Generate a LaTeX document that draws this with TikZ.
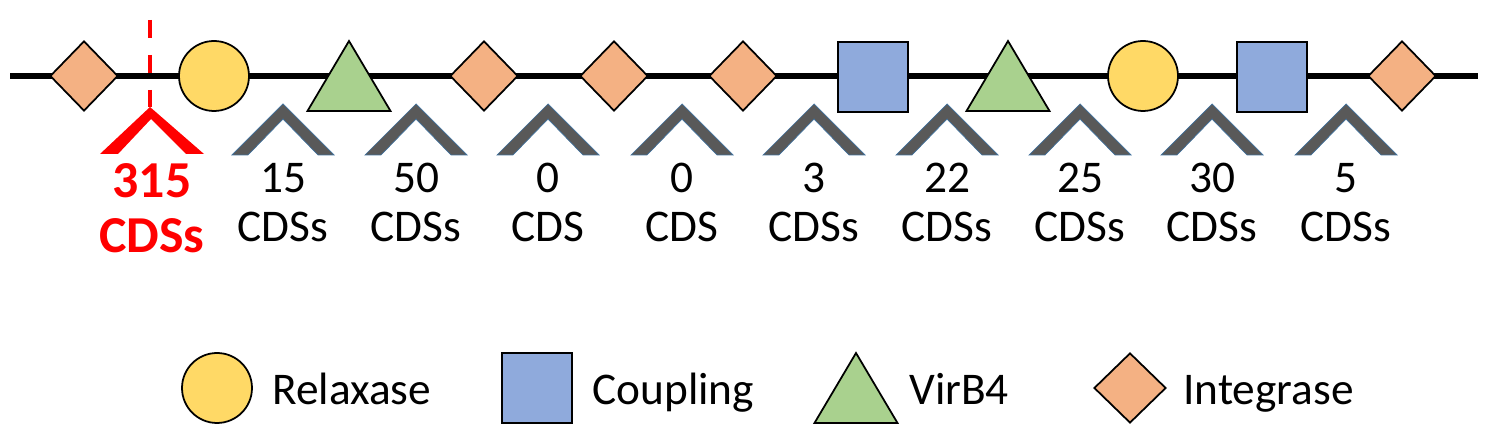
\documentclass[tikz,border=0pt]{standalone}
\usepackage{fontspec}
\setmainfont{Carlito}
\usetikzlibrary{shapes.geometric}
\definecolor{integC}{HTML}{F4B183}
\definecolor{relaxC}{HTML}{FFD966}
\definecolor{coupC}{HTML}{8FAADC}
\definecolor{virC}{HTML}{A9D18E}
\definecolor{chevC}{HTML}{595959}
\definecolor{chevE}{HTML}{41719C}
\tikzset{
  bone/.style={line width=3.1pt},
  gene/.style={draw,line width=1pt,inner sep=0pt},
  integ/.style={gene,diamond,fill=integC,minimum width=1.36cm,minimum height=1.4cm},
  relax/.style={gene,circle,fill=relaxC,minimum size=1.4cm},
  coup/.style={gene,rectangle,fill=coupC,minimum size=1.4cm},
  virtri/.style={draw,line width=1pt,fill=virC,line join=miter},
  chev/.style={fill=chevC,draw=chevE,line width=0.4pt},
  cnt/.style={font=\fontsize{25.8}{30}\selectfont,anchor=base,inner sep=0pt},
  rcnt/.style={font=\fontsize{29.5}{34}\selectfont\bfseries,text=red,anchor=base,inner sep=0pt},
  legtxt/.style={font=\fontsize{25.8}{30}\selectfont,anchor=base west,inner sep=0pt},
}
\newcommand{\virb}[2]{% #1 = x of apex, #2 = y of apex
  \draw[virtri] (#1,#2) -- (#1+41.5,#2+70) -- (#1-41.5,#2+70) -- cycle;}
\newcommand{\chevron}[1]{% #1 = x of apex
  \draw[chev] (#1-51,155) -- (#1,104) -- (#1+51,155) -- (#1+35,155) -- (#1,119) -- (#1-35,155) -- cycle;}

\begin{document}
\begin{tikzpicture}[x=0.02cm,y=-0.02cm]
\useasboundingbox (0,0) rectangle (1491,448);
% backbone
\coordinate (bL) at (10,76);
\coordinate (bR) at (1478,76);
\draw[bone] (bL) -- (bR);
% genes on the backbone
\node[integ] (int1) at (84,76) {};
\node[relax] (rel1) at (214,76) {};
\virb{349}{41}
\node[integ] (int2) at (484,76) {};
\node[integ] (int3) at (614,76) {};
\node[integ] (int4) at (743,76) {};
\node[coup] (cou1) at (873,77) {};
\virb{1008}{41}
\node[relax] (rel2) at (1143,76) {};
\node[coup] (cou2) at (1272,77) {};
\node[integ] (int5) at (1402,76) {};
% insertion site
\coordinate (cut) at (150,20);
\coordinate (cutB) at (150,107);
\draw[red,line width=2.5pt,dash pattern=on 0.37cm off 0.33cm] (cut) -- (cutB);
\fill[red] (100,154) -- (cutB) -- (204,154) -- (186,154) -- (151,119) -- (118,154) -- cycle;
\node[rcnt] (rnum) at (152,198) {315};
\node[rcnt] (rcds) at (152,253) {CDSs};
% intergenic counts
\foreach \X/\n/\u [count=\i] in {283/15/CDSs,416/50/CDSs,548/0/CDS,682/0/CDS,814/3/CDSs,947/22/CDSs,1080/25/CDSs,1212/30/CDSs,1346/5/CDSs}{
  \chevron{\X}
  \node[cnt] (num\i) at (\X,193) {\n};
  \node[cnt] (cds\i) at (\X,242) {\u};}
% legend
\node[relax] (kRel) at (217,388) {};
\node[legtxt] (kRelT) at (272,405) {Relaxase};
\node[coup] (kCou) at (537,388) {};
\node[legtxt] (kCouT) at (592,405) {Coupling};
\virb{856}{353}
\node[legtxt] (kVirT) at (909,405) {VirB4};
\node[integ,minimum width=1.44cm] (kInt) at (1130,388) {};
\node[legtxt] (kIntT) at (1183,405) {Integrase};
\end{tikzpicture}
\end{document}
